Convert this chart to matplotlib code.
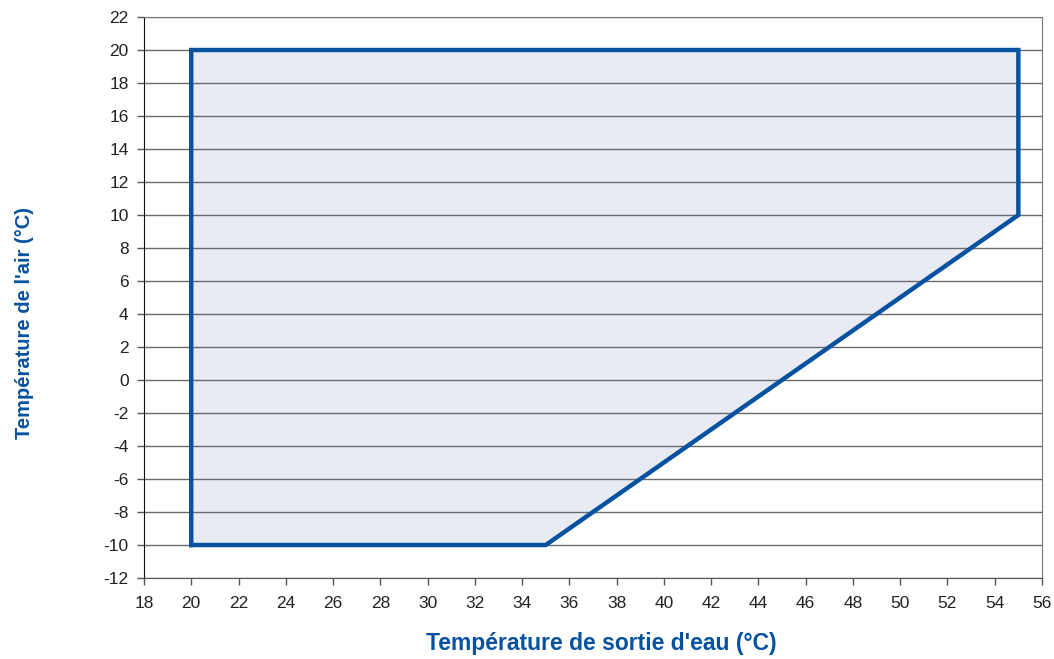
import matplotlib
matplotlib.use("Agg")
import matplotlib.pyplot as plt

# Data
water_temp = [20, 20, 55, 55, 35, 20]
air_temp = [-10, 20, 20, 10, -10, -10]
x_ticks = list(range(18, 57, 2))
y_ticks = list(range(-12, 23, 2))

plt.rcParams['font.family'] = ['Liberation Sans', 'DejaVu Sans']
plt.rcParams['axes.unicode_minus'] = False

blue = "#0652A0"
fill = "#E8EAF4"

fig = plt.figure(figsize=(10.54, 6.59), dpi=100)
ax = fig.add_axes([0.1366, 0.1229, 0.852, 0.8513])

ax.fill(water_temp, air_temp, color=fill, zorder=1, lw=0)
for y in y_ticks:
    ax.axhline(y, color="#6b6b6b", lw=1.0, zorder=2)
ax.plot(water_temp, air_temp, color=blue, lw=3.2, zorder=3, solid_joinstyle='miter')

ax.set_xlim(18, 56)
ax.set_ylim(-12, 22)
ax.set_xticks(x_ticks)
ax.set_yticks(y_ticks)
ax.set_xticklabels([str(v) for v in x_ticks])
ax.set_yticklabels([str(v) for v in y_ticks])
ax.tick_params(labelsize=12.5, colors="#222222", length=5, width=1)
ax.tick_params(axis='x', pad=8, color="#555555")
ax.tick_params(axis='y', pad=6, color="#555555")
for s in ["top", "right", "bottom"]:
    ax.spines[s].set_color("#777777")
ax.spines["left"].set_color("#111111")
ax.spines["bottom"].set_color("#555555")

ax.set_xlabel("Température de sortie d'eau (°C)", fontsize=16.5, fontweight="bold", color=blue)
ax.set_ylabel("Température de l'air (°C)", fontsize=14.5, fontweight="bold", color=blue)
ax.xaxis.set_label_coords(0.509, -0.097)
ax.yaxis.set_label_coords(-0.122, 0.455)

fig.savefig("out.png", dpi=100)
